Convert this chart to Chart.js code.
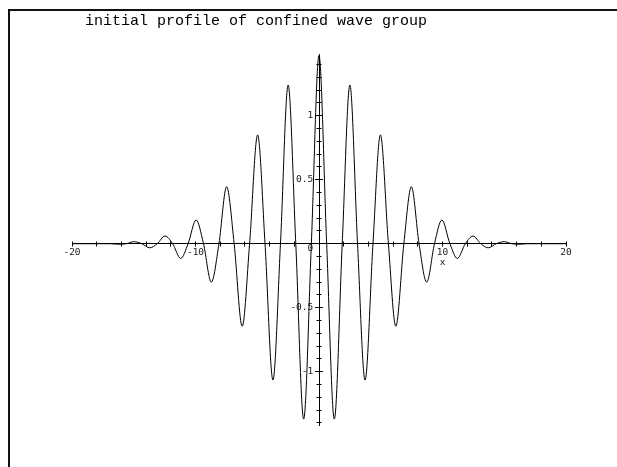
<!DOCTYPE html>
<html>
<head>
<meta charset="utf-8">
<script src="https://cdn.jsdelivr.net/npm/chart.js@4.4.1/dist/chart.umd.min.js"></script>
<style>
  html, body { margin: 0; padding: 0; background: #fff; }
  #wrap { position: relative; width: 617px; height: 467px; overflow: hidden; }
  #frame { position: absolute; left: 8px; top: 9px; right: 0; bottom: 0;
           border-left: 2px solid #111; border-top: 2px solid #111; pointer-events: none; }
</style>
</head>
<body>
<div id="wrap">
  <canvas id="waveChart" width="617" height="467"></canvas>
  <div id="frame"></div>
</div>
<script>
// values: peaks, troughs and zero crossings
const xValues = [
  -20, -18, -16.9, -16.25, -15.6, -15.0, -14.35, -13.7, -13.1, -12.47,
  -11.85, -11.2, -10.6, -9.95, -9.35, -8.72, -8.1, -7.48, -6.87, -6.22,
  -5.62, -4.97, -4.37, -3.73, -3.12, -2.5, -1.88, -1.24, -0.62, 0,
  0.62, 1.24, 1.88, 2.5, 3.12, 3.73, 4.37, 4.97, 5.62, 6.22,
  6.87, 7.48, 8.1, 8.72, 9.35, 9.95, 10.6, 11.2, 11.85, 12.47,
  13.1, 13.7, 14.35, 15.0, 15.6, 16.25, 16.9, 18, 20
];
const yValues = [
  0, 0, 0, -0.004, 0, 0.016, 0, -0.032, 0, 0.06,
  0, -0.115, 0, 0.185, 0, -0.30, 0, 0.445, 0, -0.645,
  0, 0.85, 0, -1.065, 0, 1.24, 0, -1.37, 0, 1.47,
  0, -1.37, 0, 1.24, 0, -1.065, 0, 0.85, 0, -0.645,
  0, 0.445, 0, -0.30, 0, 0.185, 0, -0.115, 0, 0.06,
  0, -0.032, 0, 0.016, 0, -0.004, 0, 0, 0
];
const xLabels = { "-20": "-20", "-10": "-10", "10": ["10", "x"], "20": "20" };
const yLabels = [-1, -0.5, 0, 0.5, 1];

const titleText = "initial profile of confined wave group";
const tickFont = { family: "'DejaVu Sans Mono', monospace", size: 9.5, lineHeight: 1 };

// axis helper: ticks on both sides of a crossing axis need a second scale
function sideScale(axis, min, max, step, len) {
  return {
    type: "linear",
    axis: axis,
    position: axis === "x" ? { y: 0 } : { x: 0 },
    min: min,
    max: max,
    ticks: { display: false, stepSize: step, includeBounds: false, autoSkip: false },
    grid: { drawOnChartArea: false, tickLength: len, color: "#000", tickWidth: 1 },
    border: { display: false },
  };
}

const yMin = -1.42, yMax = 1.482;

const ctx = document.getElementById("waveChart").getContext("2d");
new Chart(ctx, {
  type: "line",
  data: {
    datasets: [
      {
        data: xValues.map((x, i) => ({ x: x, y: yValues[i] })),
        borderColor: "#000",
        borderWidth: 1,
        pointRadius: 0,
        fill: false,
        cubicInterpolationMode: "monotone",
      },
    ],
  },
  options: {
    responsive: false,
    animation: false,
    layout: { padding: { left: 72, right: 51, top: 0, bottom: 41.5 } },
    plugins: {
      legend: { display: false },
      tooltip: { enabled: false },
      title: {
        display: true,
        text: titleText + " ".repeat(14),
        color: "#000",
        font: { family: "'Liberation Mono', 'Courier New', monospace", size: 15, weight: "normal" },
        padding: { top: 12, bottom: 24 },
      },
    },
    scales: {
      x: {
        type: "linear",
        position: { y: 0 },
        min: -20,
        max: 20,
        ticks: {
          stepSize: 2,
          autoSkip: false,
          maxRotation: 0,
          color: "#222",
          font: tickFont,
          padding: 2,
          callback: (v) => xLabels[String(v)] || "",
        },
        grid: { drawOnChartArea: false, tickLength: 2.5, color: "#000" },
        border: { color: "#000", width: 1 },
      },
      xTop: sideScale("x", -20, 20, 2, -2.5),
      y: {
        type: "linear",
        position: { x: 0 },
        min: yMin,
        max: yMax,
        ticks: {
          stepSize: 0.1,
          includeBounds: false,
          autoSkip: false,
          color: "#222",
          font: tickFont,
          callback: (v) => {
            const hit = yLabels.find((l) => Math.abs(l - v) < 1e-6);
            if (hit === undefined) return "";
            // the origin label sits just under the x axis
            return hit === 0 ? ["", "0 "] : String(hit) + " ";
          },
        },
        grid: { drawOnChartArea: false, tickLength: 2.5, color: "#000" },
        border: { color: "#000", width: 1 },
      },
      yRight: sideScale("y", yMin, yMax, 0.1, -2.5),
      yMajL: sideScale("y", yMin, yMax, 0.5, 4),
      yMajR: sideScale("y", yMin, yMax, 0.5, -4),
    },
  },
});
</script>
</body>
</html>
